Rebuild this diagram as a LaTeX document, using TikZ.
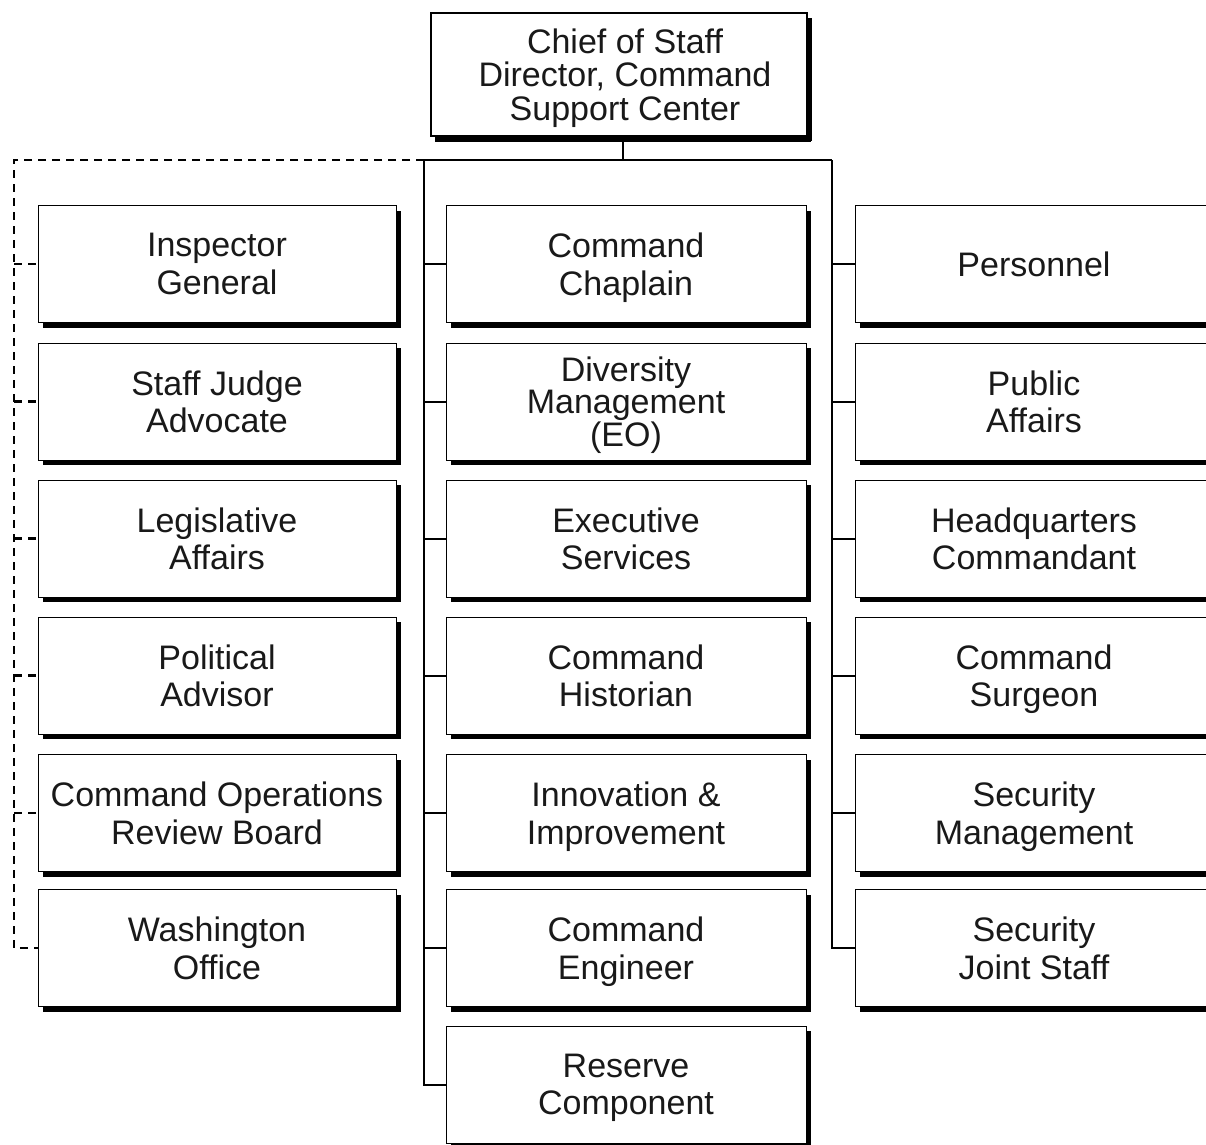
\documentclass[tikz,border=0pt]{standalone}
\usepackage{fontspec}
\setmainfont{Liberation Sans}
\usetikzlibrary{shadows}
\begin{document}
\begin{tikzpicture}[x=1pt,y=-1pt,
  unit/.style={draw=black, line width=1pt, fill=white, rectangle,
    minimum width=358pt, minimum height=117pt, inner sep=0pt, align=center,
    text depth=0pt,
    font=\fontsize{34}{37.5}\selectfont, text=black!90,
    drop shadow={shadow xshift=5pt, shadow yshift=-5pt, fill=black, opacity=1}},
  midunit/.style={unit, minimum width=360pt},
  headunit/.style={unit, line width=2pt, minimum width=376pt, minimum height=123pt,
    font=\fontsize{34}{33.5}\selectfont,
    drop shadow={shadow xshift=4pt, shadow yshift=-6pt, fill=black, opacity=1}},
  conn/.style={line width=2pt, black},
  dconn/.style={line width=2.2pt, black, dash pattern=on 8pt off 6pt}]
\useasboundingbox (0,0) rectangle (1206,1144);
\clip (0,0) rectangle (1206,1144);

% head
\node[headunit] (top) at (619,74.5) {\hspace*{12pt}Chief of Staff\\\hspace*{12pt}Director, Command\\\hspace*{12pt}Support Center};

% left column
\node[unit] (l1) at (217,264)   {Inspector\\General};
\node[unit] (l2) at (217,401.5) {Staff Judge\\Advocate};
\node[unit] (l3) at (217,538.5) {Legislative\\Affairs};
\node[unit] (l4) at (217,675.5) {Political\\Advisor};
\node[unit] (l5) at (217,813)   {Command Operations\\Review Board};
\node[unit] (l6) at (217,948)   {Washington\\Office};

% middle column
\node[midunit] (m1) at (626,264)   {Command\\Chaplain};
\node[midunit, font=\fontsize{34}{32.5}\selectfont] (m2) at (626,401.5) {Diversity\\Management\\(EO)};
\node[midunit] (m3) at (626,538.5) {Executive\\Services};
\node[midunit] (m4) at (626,675.5) {Command\\Historian};
\node[midunit] (m5) at (626,813)   {Innovation \&\\Improvement};
\node[midunit] (m6) at (626,948)   {Command\\Engineer};
\node[midunit] (m7) at (626,1084.5) {Reserve\\Component};

% right column
\node[unit] (r1) at (1034,264)   {Personnel};
\node[unit] (r2) at (1034,401.5) {Public\\Affairs};
\node[unit] (r3) at (1034,538.5) {Headquarters\\Commandant};
\node[unit] (r4) at (1034,675.5) {Command\\Surgeon};
\node[unit] (r5) at (1034,813)   {Security\\Management};
\node[unit] (r6) at (1034,948)   {Security\\Joint Staff};

% junctions
\coordinate (j)  at (623,160);
\coordinate (mt) at (424,160);
\coordinate (rt) at (832,160);
\coordinate (dl) at (14,160);

\draw[conn] (top.south -| j) -- (j);
\draw[conn] (mt) -- (rt);
\draw[conn] (mt) -- (mt |- m7.west) -- (m7.west);
\foreach \i in {1,...,6} \draw[conn] (mt |- m\i.west) -- (m\i.west);
\draw[conn] (rt) -- (rt |- r6.west) -- (r6.west);
\foreach \i in {1,...,5} \draw[conn] (rt |- r\i.west) -- (r\i.west);

\draw[dconn] (mt) -- (dl) -- (dl |- l6.west) -- (l6.west);
\foreach \i in {1,...,5} \draw[dconn] (dl |- l\i.west) -- (l\i.west);
\end{tikzpicture}
\end{document}
